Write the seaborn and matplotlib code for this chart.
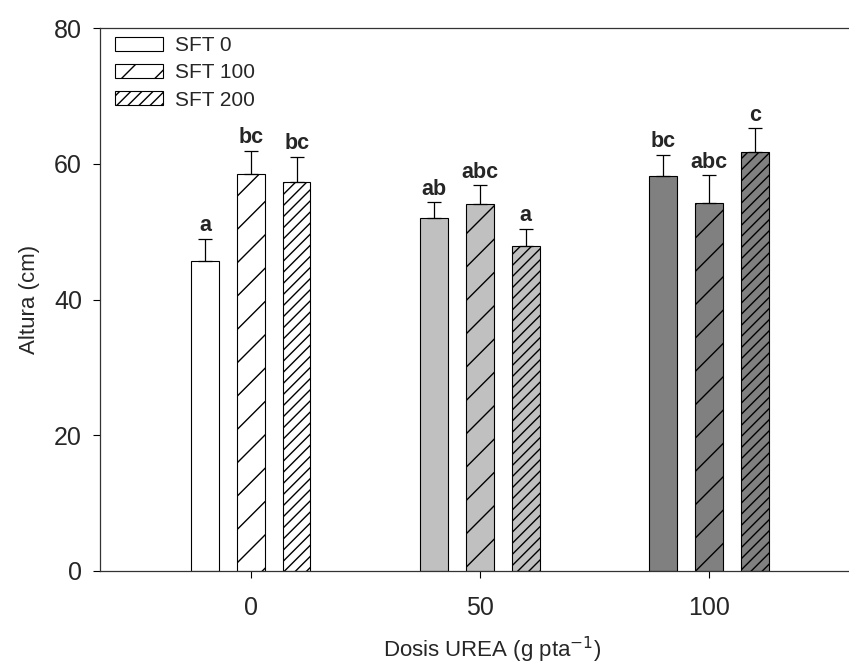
import matplotlib
matplotlib.use("Agg")
import matplotlib.pyplot as plt
from matplotlib.patches import Patch
import seaborn as sns
import pandas as pd

# ---- data ----
urea_doses = ["0", "50", "100"]
sft_levels = ["SFT 0", "SFT 100", "SFT 200"]
height_sft0 = [45.7, 52.0, 58.2]
height_sft100 = [58.5, 54.0, 54.2]
height_sft200 = [57.3, 47.9, 61.7]
err_sft0 = [3.2, 2.3, 3.1]
err_sft100 = [3.4, 2.8, 4.1]
err_sft200 = [3.7, 2.5, 3.5]
letters_sft0 = ["a", "ab", "bc"]
letters_sft100 = ["bc", "abc", "abc"]
letters_sft200 = ["bc", "a", "c"]
y_ticks = [0, 20, 40, 60, 80]

means = [height_sft0, height_sft100, height_sft200]
errs = [err_sft0, err_sft100, err_sft200]
letters = [letters_sft0, letters_sft100, letters_sft200]

rows = []
for s, m in zip(sft_levels, means):
    for d, v in zip(urea_doses, m):
        rows.append({"dosis": d, "sft": s, "altura": v})
df = pd.DataFrame(rows)

# ---- style ----
sns.set_style("ticks")
plt.rcParams["font.family"] = ["Liberation Sans", "DejaVu Sans"]
plt.rcParams["hatch.linewidth"] = 1.0
plt.rcParams["hatch.color"] = "black"

group_colors = ["#ffffff", "#c0c0c0", "#808080"]
hatches = ["", "/", "///"]

W, H = 849, 670
ax_left, ax_right, ax_top, ax_bottom = 100, 884, 28, 571
fig = plt.figure(figsize=(W / 100, H / 100), dpi=100)
ax = fig.add_axes([ax_left / W, 1 - ax_bottom / H,
                   (ax_right - ax_left) / W, (ax_bottom - ax_top) / H])

sns.barplot(data=df, x="dosis", y="altura", hue="sft", order=urea_doses,
            hue_order=sft_levels, width=0.6, gap=0.4, errorbar=None,
            dodge=True, ax=ax, legend=False)

bar_containers = list(ax.containers)
for hi, cont in enumerate(bar_containers):
    for gi, bar in enumerate(cont.patches):
        bar.set_facecolor(group_colors[gi])
        bar.set_edgecolor("black")
        bar.set_linewidth(0.8)
        bar.set_hatch(hatches[hi])
    xs = [b.get_x() + b.get_width() / 2 for b in cont.patches]
    hs = [b.get_height() for b in cont.patches]
    ax.errorbar(xs, hs, yerr=[[0] * len(hs), errs[hi]], fmt="none",
                ecolor="black", elinewidth=0.9, capsize=5.3, capthick=0.9,
                zorder=1)
    for x, h, e, lab in zip(xs, hs, errs[hi], letters[hi]):
        ax.annotate(lab, (x, h + e), xytext=(0, 2), textcoords="offset points",
                    ha="center", va="bottom", fontsize=15.5, fontweight="bold")

ax.set_xlim(-0.659, 2.764)
ax.set_ylim(0, 80)
ax.set_yticks(y_ticks)
ax.set_xticks(range(len(urea_doses)))
ax.set_xticklabels(urea_doses)
ax.tick_params(axis="both", direction="out", length=5, width=0.8,
               labelsize=18, color="black")
ax.tick_params(axis="y", pad=8)
ax.tick_params(axis="x", pad=13)
for side in ["left", "bottom", "top"]:
    ax.spines[side].set_linewidth(0.9)
    ax.spines[side].set_color("#333333")
ax.spines["right"].set_visible(False)

ax.set_ylabel("Altura (cm)", fontsize=16, labelpad=10)
ax.set_xlabel("Dosis UREA (g pta$^{-1}$)", fontsize=16, labelpad=11)

handles = [Patch(facecolor="white", edgecolor="black", hatch=h, linewidth=0.8)
           for h in hatches]
ax_w = ax_right - ax_left
ax_h = ax_bottom - ax_top
ax.legend(handles, sft_levels, loc="upper left", frameon=False, fontsize=15,
          handlelength=2.3, handleheight=0.67, labelspacing=0.4,
          handletextpad=0.58, borderaxespad=0, borderpad=0,
          bbox_to_anchor=((115 - ax_left) / ax_w, 1 - (36 - ax_top) / ax_h))

fig.savefig("out.png", dpi=100)
